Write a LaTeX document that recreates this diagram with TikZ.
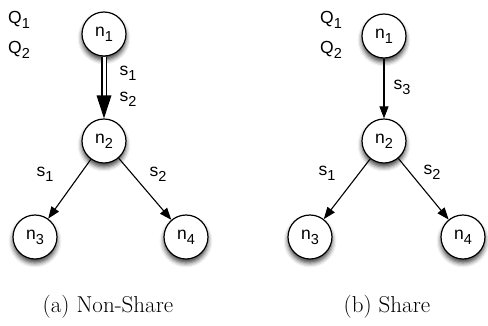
\documentclass[tikz,border=0pt]{standalone}
\usepackage{fontspec}
\newfontfamily\lblfont{Liberation Sans}
\usetikzlibrary{arrows.meta,shadows.blur}
\newcommand\lbl[2]{{\lblfont\fontsize{17.5}{17.5}\selectfont #1\raisebox{-5pt}{\fontsize{14.5}{14.5}\selectfont #2}}}
\tikzset{
  vert/.style={circle, draw=black, line width=1.2pt, fill=white, minimum size=44pt, inner sep=0pt,
    blur shadow={shadow xshift=0pt, shadow yshift=-4pt, shadow blur radius=4.5pt, shadow opacity=75}},
  edge/.style={line width=1.1pt, -{Triangle[width=9pt,length=12pt]}},
  tag/.style={inner sep=0pt},
  captext/.style={inner sep=0pt, anchor=base, font=\fontsize{23}{26}\selectfont}
}
\begin{document}
\begin{tikzpicture}[x=1pt,y=-1pt]
\useasboundingbox (0,0) rectangle (488,325);
% (a) Non-Share
\node[vert] (a1) at (104,34) {\lbl{n}{1}};
\node[vert] (a2) at (104,141) {\lbl{n}{2}};
\node[vert] (a3) at (35,237) {\lbl{n}{3}};
\node[vert] (a4) at (186,237) {\lbl{n}{4}};
\draw[line width=1.2pt, double=white, double distance=3pt, shorten >=18pt] (a1) -- (a2);
\fill (a2.north) -- ++(-7.5,-23) -- ++(15,0) -- cycle;
\draw[edge] (a2) -- (a3);
\draw[edge] (a2) -- (a4);
\node[tag] (aq1) at (19,20) {\lbl{Q}{1}};
\node[tag] (aq2) at (19,50) {\lbl{Q}{2}};
\node[tag] (as1) at (128,73) {\lbl{s}{1}};
\node[tag] (as2) at (128,99) {\lbl{s}{2}};
\node[tag] (as1b) at (45,174) {\lbl{s}{1}};
\node[tag] (as2b) at (158,174) {\lbl{s}{2}};
\node[captext] (capa) at (108,312) {(a) Non-Share};
% (b) Share
\node[vert] (b1) at (384,36) {\lbl{n}{1}};
\node[vert] (b2) at (384,141) {\lbl{n}{2}};
\node[vert] (b3) at (310,237) {\lbl{n}{3}};
\node[vert] (b4) at (463,237) {\lbl{n}{4}};
\draw[edge] (b1) -- (b2);
\draw[edge] (b2) -- (b3);
\draw[edge] (b2) -- (b4);
\node[tag] (bq1) at (331,20) {\lbl{Q}{1}};
\node[tag] (bq2) at (331,50) {\lbl{Q}{2}};
\node[tag] (bs3) at (402,87) {\lbl{s}{3}};
\node[tag] (bs1) at (327,173) {\lbl{s}{1}};
\node[tag] (bs2) at (432,172) {\lbl{s}{2}};
\node[captext] (capb) at (387,312) {(b) Share};
\end{tikzpicture}
\end{document}
